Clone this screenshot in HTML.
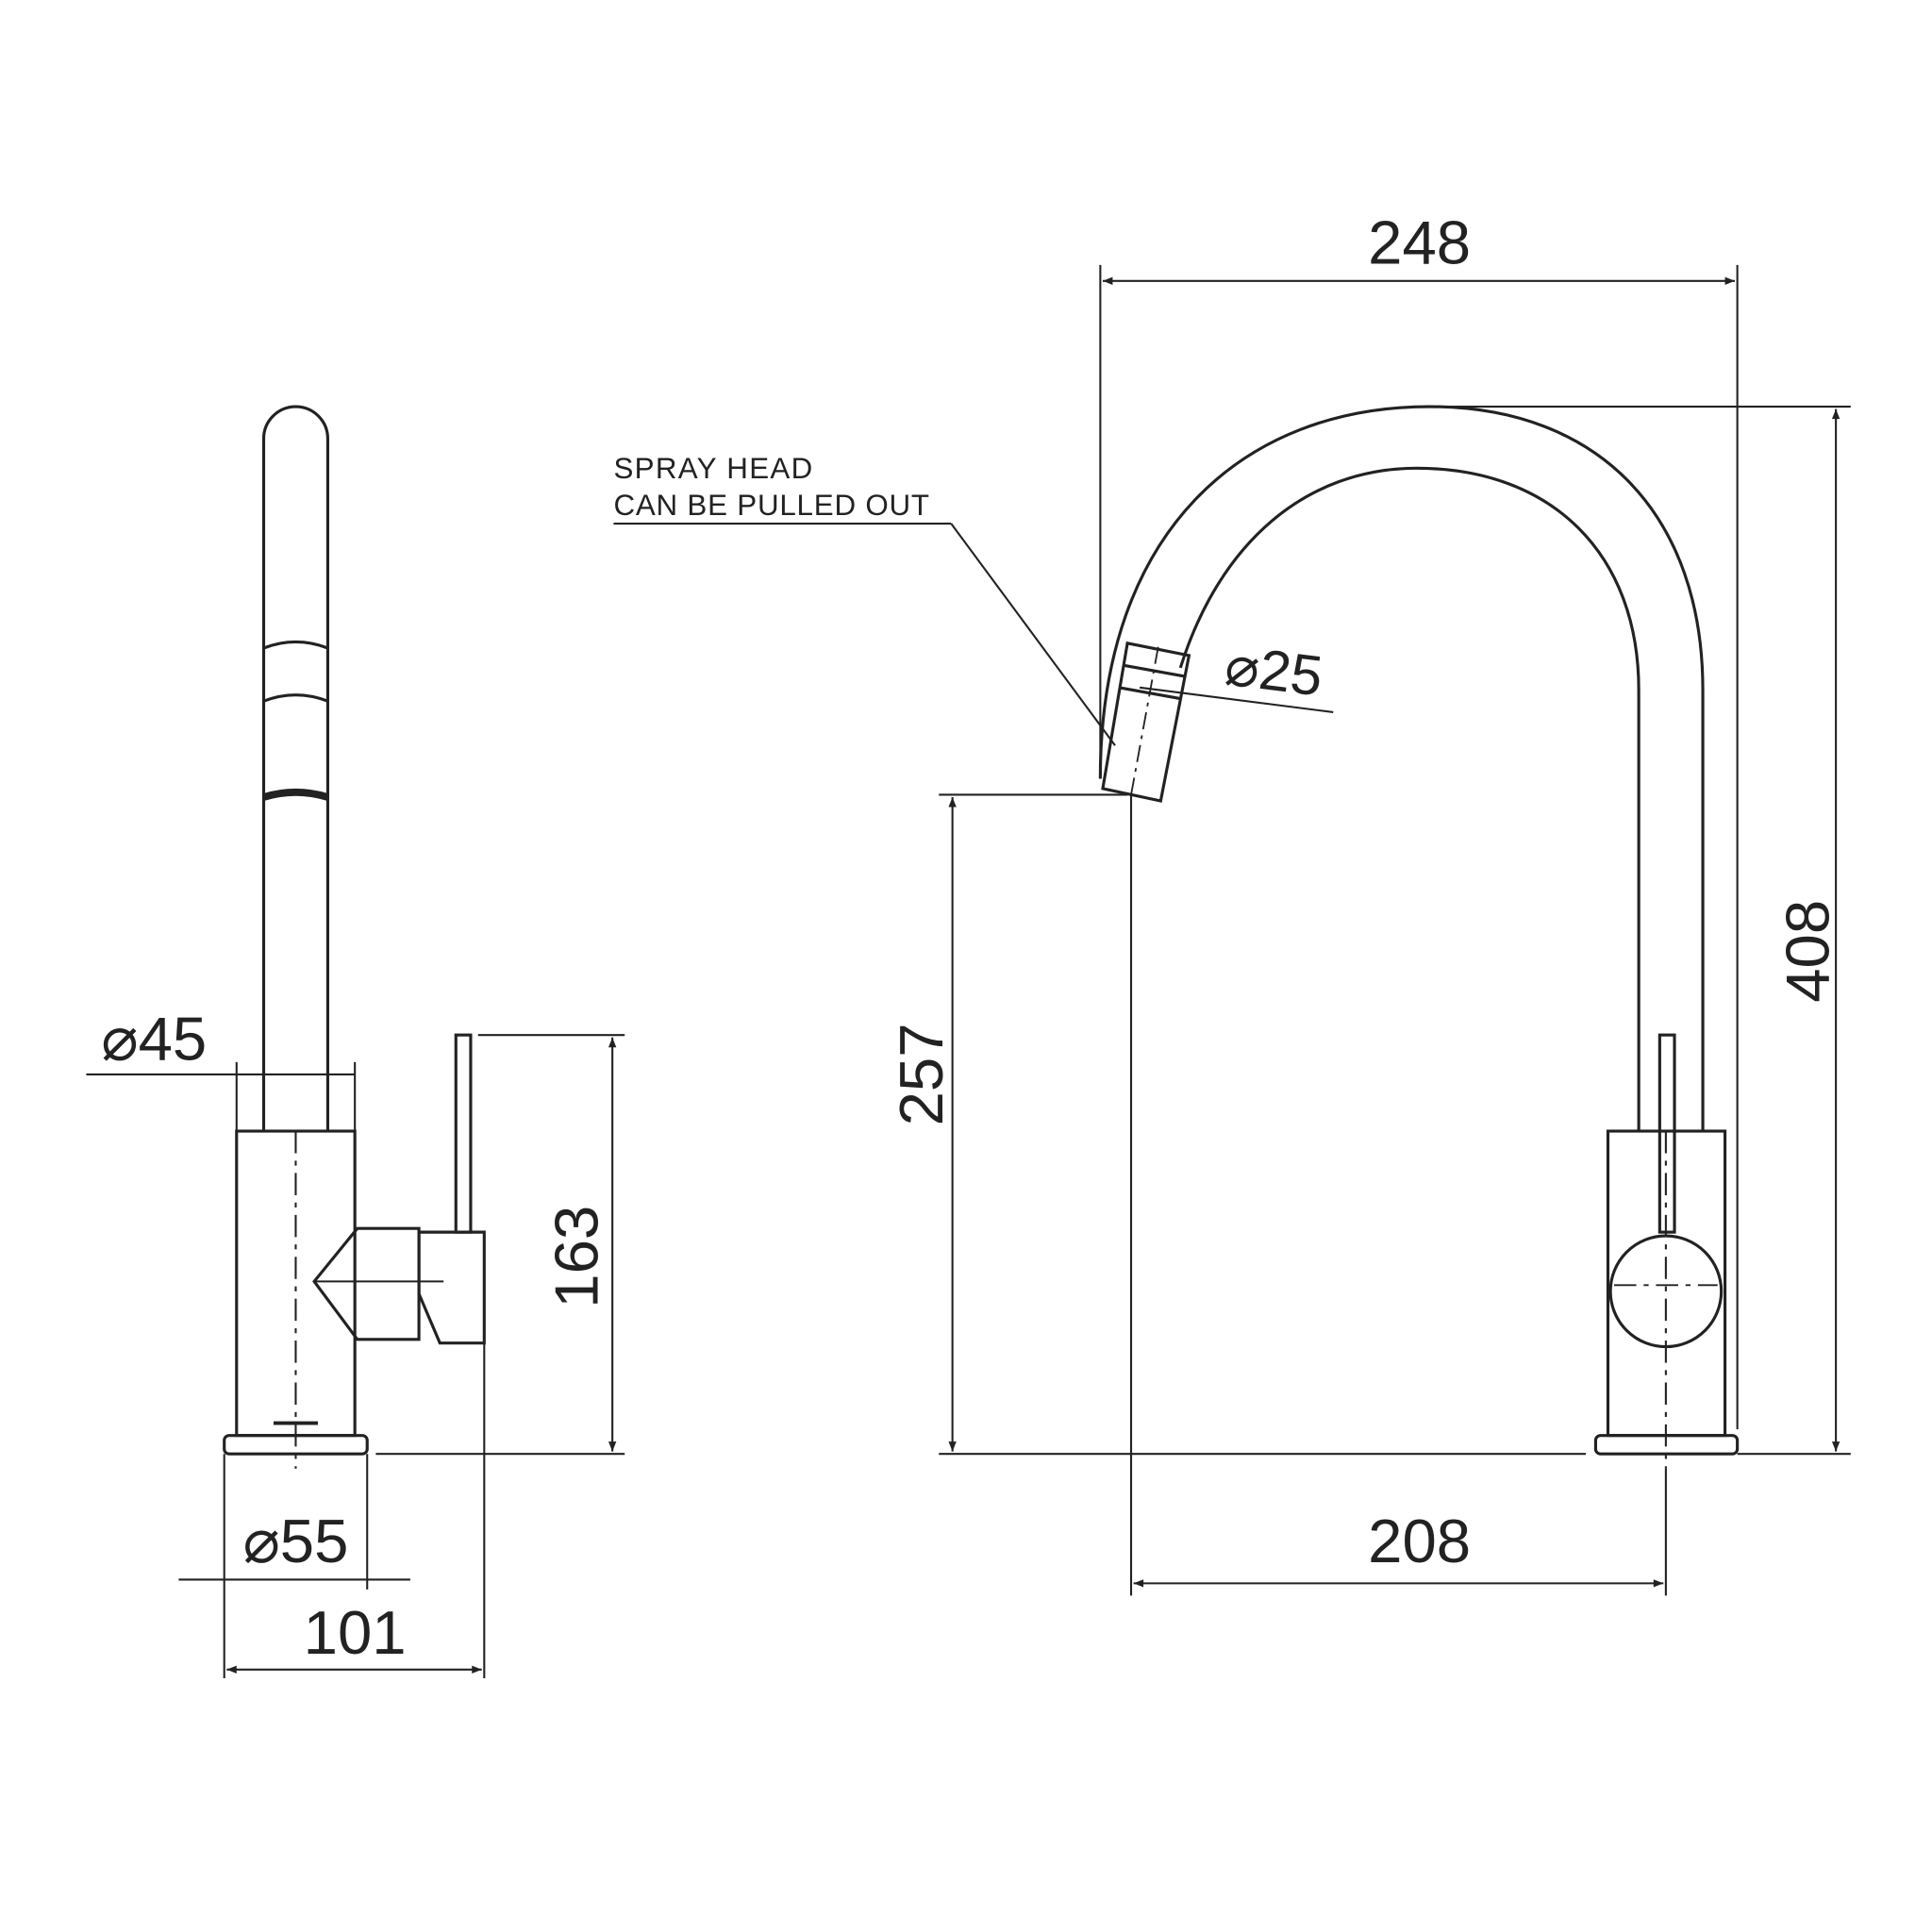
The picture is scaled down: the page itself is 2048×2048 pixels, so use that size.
<!DOCTYPE html>
<html><head><meta charset="utf-8"><style>html,body{margin:0;padding:0;background:#fff}svg{display:block}</style></head>
<body>
<svg width="2048" height="2048" viewBox="0 0 1568 1568" xmlns="http://www.w3.org/2000/svg">
<defs>
<marker id="a" viewBox="0 0 10 10" refX="10" refY="5" markerWidth="12" markerHeight="8" markerUnits="userSpaceOnUse" orient="auto-start-reverse"><path d="M0,1 L10,5 L0,9 z" fill="#222"/></marker>
</defs>
<g fill="none" stroke="#222" stroke-width="2.4">
<!-- LEFT VIEW -->
<path d="M214 918 L214 356 A26 26 0 0 1 266 356 L266 918"/>
<path d="M214 526 Q240 516 266 526"/>
<path d="M214 569 Q240 559 266 569"/>
<path d="M214 647 Q240 639 266 647" stroke-width="6"/>
<rect x="192" y="918" width="96" height="247"/>
<rect x="182" y="1165" width="116" height="15" rx="4"/>
<rect x="370" y="840" width="12" height="160"/>
<path d="M340 1000 L393 1000 L393 1090 L357 1090 L340 1050 Z"/>
<path d="M290 997 L340 997 L340 1087 L290 1087 L255 1040 Z"/>
<line x1="255" y1="1040" x2="360" y2="1040" stroke-width="1.5"/>
<line x1="240" y1="918" x2="240" y2="1192" stroke-dasharray="18,6,4,6" stroke-width="1.6"/>
<line x1="222" y1="1155" x2="258" y2="1155" stroke-width="3"/>
<line x1="70" y1="872" x2="288" y2="872" stroke-width="1.6"/>
<line x1="192" y1="862" x2="192" y2="918" stroke-width="1.6"/>
<line x1="288" y1="862" x2="288" y2="918" stroke-width="1.6"/>
<line x1="388" y1="840" x2="507" y2="840" stroke-width="1.6"/>
<line x1="305" y1="1180" x2="507" y2="1180" stroke-width="1.6"/>
<line x1="497" y1="842" x2="497" y2="1178" stroke-width="1.6" marker-start="url(#a)" marker-end="url(#a)"/>
<line x1="182" y1="1180" x2="182" y2="1362" stroke-width="1.6"/>
<line x1="298" y1="1180" x2="298" y2="1290" stroke-width="1.6"/>
<line x1="145" y1="1282" x2="333" y2="1282" stroke-width="1.6"/>
<line x1="393" y1="1090" x2="393" y2="1362" stroke-width="1.6"/>
<line x1="184" y1="1355" x2="391" y2="1355" stroke-width="1.6" marker-start="url(#a)" marker-end="url(#a)"/>

<!-- RIGHT VIEW -->
<path d="M893 632 C893 430 1010 330 1160 330 C1300 330 1382 420 1382 560 L1382 918"/>
<path d="M958 542 C990 440 1060 380 1150 380 C1260 380 1330 450 1330 560 L1330 918"/>
<path d="M915 522 L965 532 L942 650 L895 640 Z"/>
<line x1="912" y1="540" x2="962" y2="549"/>
<line x1="908" y1="558" x2="958" y2="567"/>
<line x1="940" y1="525" x2="918" y2="645" stroke-dasharray="14,5,3,5" stroke-width="1.4"/>
<rect x="1305" y="918" width="95" height="247"/>
<rect x="1295" y="1165" width="115" height="15" rx="4"/>
<rect x="1347" y="840" width="12" height="160"/>
<circle cx="1352" cy="1048" r="45"/>
<line x1="1352" y1="918" x2="1352" y2="1192" stroke-dasharray="18,6,4,6" stroke-width="1.6"/>
<line x1="1310" y1="1043" x2="1394" y2="1043" stroke-dasharray="18,6,4,6" stroke-width="1.4"/>
<line x1="893" y1="215" x2="893" y2="632" stroke-width="1.6"/>
<line x1="1410" y1="215" x2="1410" y2="1160" stroke-width="1.6"/>
<line x1="895" y1="228" x2="1408" y2="228" stroke-width="1.6" marker-start="url(#a)" marker-end="url(#a)"/>
<line x1="1170" y1="330" x2="1502" y2="330" stroke-width="1.6"/>
<line x1="1410" y1="1180" x2="1502" y2="1180" stroke-width="1.6"/>
<line x1="1490" y1="332" x2="1490" y2="1178" stroke-width="1.6" marker-start="url(#a)" marker-end="url(#a)"/>
<line x1="762" y1="645" x2="915" y2="645" stroke-width="1.6"/>
<line x1="762" y1="1180" x2="1287" y2="1180" stroke-width="1.6"/>
<line x1="773" y1="647" x2="773" y2="1178" stroke-width="1.6" marker-start="url(#a)" marker-end="url(#a)"/>
<line x1="918" y1="645" x2="918" y2="1295" stroke-width="1.6"/>
<line x1="1352" y1="1192" x2="1352" y2="1295" stroke-width="1.6"/>
<line x1="920" y1="1285" x2="1350" y2="1285" stroke-width="1.6" marker-start="url(#a)" marker-end="url(#a)"/>
<line x1="925" y1="558" x2="1082" y2="578" stroke-width="1.6"/>
<line x1="498" y1="425" x2="772" y2="425" stroke-width="1.6"/>
<line x1="772" y1="425" x2="905" y2="605" stroke-width="1.6"/>
</g>
<g font-family="'Liberation Sans', sans-serif" fill="#222">
<text x="125" y="860" font-size="50" text-anchor="middle">⌀45</text>
<text x="240" y="1268" font-size="50" text-anchor="middle">⌀55</text>
<text x="288" y="1342" font-size="50" text-anchor="middle">101</text>
<text transform="translate(485,1020) rotate(-90)" font-size="50" text-anchor="middle">163</text>
<text x="1152" y="214" font-size="50" text-anchor="middle">248</text>
<text x="1152" y="1268" font-size="50" text-anchor="middle">208</text>
<text transform="translate(765,872) rotate(-90)" font-size="50" text-anchor="middle">257</text>
<text transform="translate(1484,772) rotate(-90)" font-size="50" text-anchor="middle">408</text>
<text transform="translate(1032,560) rotate(7)" font-size="46" text-anchor="middle">⌀25</text>
<text x="498" y="388" font-size="24" letter-spacing="1">SPRAY HEAD</text>
<text x="498" y="418" font-size="24" letter-spacing="0.6">CAN BE PULLED OUT</text>
</g>
</svg>
</body></html>
